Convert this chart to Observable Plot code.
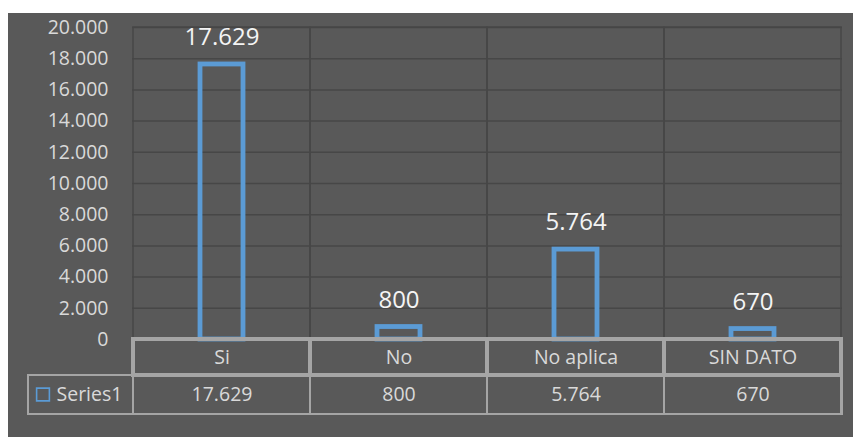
<!DOCTYPE html>
<html>
<head>
<meta charset="utf-8">
<script src="https://cdn.jsdelivr.net/npm/d3@7"></script>
<script src="https://cdn.jsdelivr.net/npm/@observablehq/plot@0.6"></script>
<style>
  html, body { margin: 0; padding: 0; background: #ffffff; }
  #chart { position: absolute; left: 8px; top: 13px; }
  svg { display: block; }
</style>
</head>
<body>
<div id="chart"></div>
<script>
const categories = ["Si", "No", "No aplica", "SIN DATO"];
const values = [17629, 800, 5764, 670];
const yTicks = [0, 2000, 4000, 6000, 8000, 10000, 12000, 14000, 16000, 18000, 20000];
const seriesName = "Series1";

const rows = categories.map((c, i) => ({category: c, value: values[i]}));
const locale = d3.formatLocale({decimal: ",", thousands: ".", grouping: [3], currency: ["", ""]});
const fmt = locale.format(",d");

const FONT = "'Open Sans', 'Noto Sans', sans-serif";
const BLUE = "#5B9BD5";
const GRID = "#474747";
const TABLE = "#a5a5a5";
const TXT = "#d9d9d9";

const chart = Plot.plot({
  width: 845,
  height: 424,
  marginLeft: 124,
  marginRight: 11,
  marginTop: 14,
  marginBottom: 98,
  style: {background: "#595959", fontFamily: FONT, color: TXT},
  x: {domain: categories, padding: 0, axis: null},
  y: {domain: [0, 20000], axis: null},
  marks: [
    // horizontal gridlines
    Plot.ruleY(yTicks, {stroke: GRID, strokeWidth: 1.5}),
    // vertical gridlines at category boundaries
    Plot.barY(categories, {x: d => d, y1: 0, y2: 20000, fill: "none", stroke: GRID, strokeWidth: 1.5}),
    // y axis labels
    Plot.axisY(yTicks, {tickSize: 0, tickPadding: 24, tickFormat: fmt, fontSize: 19.5, fill: TXT, label: null}),
    // bars (outline only)
    Plot.barY(rows, {x: "category", y1: 0, y2: "value", fill: "none", stroke: BLUE, strokeWidth: 4.8, insetLeft: 67, insetRight: 67}),
    // data labels
    Plot.text(rows, {x: "category", y: "value", text: d => fmt(d.value), dy: -27, lineAnchor: "middle", fontSize: 24, fill: "#f4f4f4"}),
    // data table: series row outer border (incl. label cell)
    Plot.rect([0], {y1: 0, y2: 0, insetLeft: -104, insetBottom: -39, dy: 36, fill: "none", stroke: TABLE, strokeWidth: 2}),
    // series row cells
    Plot.barY(rows, {x: "category", y1: 0, y2: 0, insetBottom: -39, dy: 36, fill: "none", stroke: TABLE, strokeWidth: 2}),
    // header row cells
    Plot.barY(categories, {x: d => d, y1: 0, y2: 0, insetBottom: -36, fill: "none", stroke: TABLE, strokeWidth: 4}),
    // category labels
    Plot.text(categories, {x: d => d, frameAnchor: "bottom", dy: 18, lineAnchor: "middle", fontSize: 19.5, fill: TXT}),
    // value labels in table
    Plot.text(rows, {x: "category", frameAnchor: "bottom", dy: 55.5, lineAnchor: "middle", text: d => fmt(d.value), fontSize: 19.5, fill: TXT}),
    // legend key
    Plot.dot([seriesName], {frameAnchor: "bottom-left", dx: -89.5, dy: 55, symbol: "square", r: 7.2, fill: "none", stroke: BLUE, strokeWidth: 1.6}),
    Plot.text([seriesName], {frameAnchor: "bottom-left", dx: -76, dy: 55.5, lineAnchor: "middle", text: d => d, textAnchor: "start", fontSize: 19.5, fill: TXT})
  ]
});
document.getElementById("chart").appendChild(chart);
</script>
</body>
</html>
